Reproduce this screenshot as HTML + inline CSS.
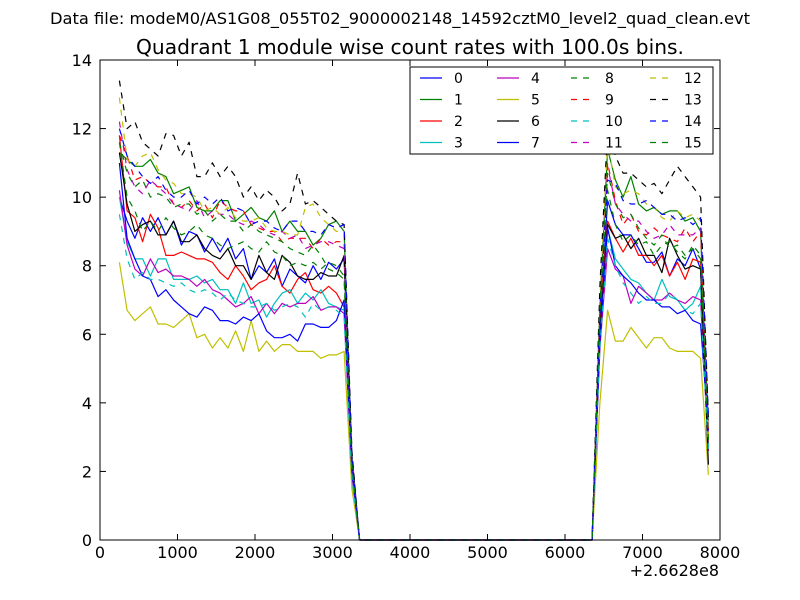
<!DOCTYPE html>
<html><head><meta charset="utf-8"><style>
body{margin:0;background:#fff;}
svg{display:block;font-family:"DejaVu Sans","Liberation Sans",sans-serif;}
</style></head><body>
<svg id="chart" width="800" height="600">
<rect width="800" height="600" fill="#fff"/>
<text x="400" y="24" font-size="16.3" text-anchor="middle">Data file: modeM0/AS1G08_055T02_9000002148_14592cztM0_level2_quad_clean.evt</text>
<text x="410" y="54" font-size="20.2" text-anchor="middle">Quadrant 1 module wise count rates with 100.0s bins.</text>
<g id="plot"></g>
<rect x="100" y="60" width="620" height="480" fill="none" stroke="#000" stroke-width="1"/>
<g id="axes"></g>
<text x="719" y="576" font-size="16" text-anchor="end">+2.6628e8</text>
<g id="legend"></g>
</svg>
<script>
const seriesNames=["0","1","2","3","4","5","6","7","8","9","10","11","12","13","14","15"];
const colors=["#0000ff","#008000","#ff0000","#00bfbf","#bf00bf","#bfbf00","#000000","#0000ff","#008000","#ff0000","#00bfbf","#bf00bf","#bfbf00","#000000","#0000ff","#008000"];
const xTicks=[0,1000,2000,3000,4000,5000,6000,7000,8000];
const yTicks=[0,2,4,6,8,10,12,14];
const firstBin=250, binSize=100, nBins=77;
const segA=[
[10.0,9.3,8.8,9.4,9.0,9.4,8.9,9.3,8.6,9.0,8.9,8.4,8.8,8.4,8.8,8.2,8.5,7.6,8.0,7.8,8.2,7.4,7.9,7.7,7.5,8.0,7.6,8.1,7.9,8.2],
[11.3,11.1,10.9,10.9,11.1,10.7,10.6,10.1,10.2,10.3,9.7,9.6,9.6,9.9,9.9,9.3,9.5,9.7,9.4,9.3,9.6,9.0,9.3,9.0,9.0,8.6,8.8,9.2,9.3,9.0],
[11.8,9.6,9.4,8.7,9.5,9.1,8.3,8.3,8.4,8.3,8.2,8.2,8.1,7.8,7.6,8.0,7.7,7.3,7.5,7.6,8.0,7.4,7.2,7.6,7.8,7.3,7.2,7.4,7.2,6.8],
[10.0,8.7,8.2,8.2,7.7,8.2,8.2,7.6,7.6,7.6,7.7,7.5,7.6,7.3,7.3,6.9,7.5,6.9,7.0,6.5,6.9,7.2,7.3,6.9,7.2,7.0,7.3,6.9,6.8,6.7],
[10.2,8.6,7.9,7.7,8.2,7.8,7.9,7.7,7.7,7.6,7.4,7.6,7.3,7.2,7.0,6.8,6.9,7.1,6.6,6.9,6.6,6.9,6.8,6.9,6.9,7.1,6.7,6.8,6.8,6.6],
[8.1,6.7,6.4,6.6,6.8,6.3,6.3,6.2,6.4,6.6,5.9,6.0,5.6,5.9,5.6,6.1,5.5,6.4,5.5,5.8,5.5,5.7,5.7,5.5,5.5,5.5,5.3,5.4,5.4,5.5],
[11.3,9.8,9.0,9.2,9.3,8.9,8.9,9.3,8.7,8.7,8.9,8.5,8.3,8.2,8.5,8.0,8.0,7.6,8.3,7.8,7.6,8.3,8.1,7.7,7.6,7.6,7.8,7.7,7.7,8.3],
[11.0,8.8,8.2,7.7,7.6,7.1,7.3,7.0,6.8,6.6,6.5,6.8,6.7,6.4,6.4,6.3,6.5,6.4,6.6,6.1,5.9,5.9,6.0,5.8,6.3,6.3,6.2,6.2,6.4,7.0],
[11.6,10.0,9.6,9.0,9.3,9.0,9.4,9.1,8.9,9.0,9.2,8.9,8.8,8.6,8.5,8.6,8.7,8.5,8.4,8.7,8.4,8.3,8.0,8.1,8.0,8.1,7.9,8.1,8.0,7.7],
[11.8,11.2,10.5,10.6,10.4,10.3,10.3,9.8,9.7,9.9,9.6,9.8,9.4,9.9,9.7,9.6,9.6,9.2,9.1,9.0,9.0,8.7,8.8,8.8,8.8,8.5,8.8,8.6,8.7,8.7],
[9.5,8.2,7.6,7.8,7.6,7.6,7.5,7.4,7.5,7.3,7.2,7.3,7.2,7.0,7.2,7.0,6.9,6.8,6.8,6.9,6.7,6.8,6.9,6.8,6.5,6.9,6.7,6.8,6.7,6.5],
[12.2,10.8,10.3,10.1,10.5,10.3,10.1,9.8,9.7,9.6,9.9,9.4,9.6,9.5,9.5,9.3,9.2,9.3,9.2,9.0,8.9,9.0,8.8,8.9,8.5,8.6,8.7,8.7,8.6,8.5],
[12.9,11.1,10.9,11.2,11.3,10.8,10.5,10.4,10.1,10.1,10.0,9.6,9.7,9.5,9.7,9.4,9.3,9.3,9.4,9.1,9.0,9.0,8.9,8.9,9.7,9.8,9.4,9.2,9.0,9.0],
[13.4,12.0,12.2,11.6,11.4,11.2,11.85,11.8,11.2,11.6,10.6,10.6,11.0,10.6,10.9,10.6,10.0,10.3,9.9,10.2,10.0,9.6,9.8,10.7,9.8,9.9,9.7,9.5,9.3,9.2],
[12.0,11.2,10.9,10.6,10.4,10.6,10.2,10.0,10.0,10.2,9.8,10.0,9.8,10.0,9.6,9.7,9.6,9.2,9.3,9.3,9.1,9.0,9.3,9.3,9.0,9.0,8.9,9.2,9.1,9.2],
[11.6,10.7,10.3,10.5,10.0,10.1,10.0,9.7,9.8,9.8,9.5,9.6,9.3,9.5,9.3,9.3,9.0,9.2,9.0,8.9,8.8,8.7,8.5,8.4,8.3,8.6,8.3,7.9,7.8,7.6]];
const dropA=[2.5,2.3,2.2,2.0,1.9,1.5,2.3,2.0,2.2,2.4,1.8,2.3,2.5,2.6,2.4,2.2];
const riseB=[6.2,6.8,6.5,5.8,5.6,4.0,6.0,5.8,6.4,6.9,5.6,6.8,7.0,7.4,6.6,6.7];
const segB=[
[9.9,9.2,8.9,8.9,8.5,8.1,8.1,8.4,7.7,8.2,8.0,8.5,7.9],
[11.4,10.5,10.0,10.6,9.8,9.6,9.7,9.5,9.6,9.6,9.3,9.4,9.0],
[9.3,8.8,8.4,8.8,8.3,8.3,8.0,8.3,7.7,8.1,7.6,8.2,8.1],
[9.1,8.2,7.9,7.6,7.5,7.2,7.0,7.6,7.1,7.0,6.7,6.9,7.4],
[8.5,7.9,7.7,6.9,7.4,7.2,7.0,7.0,7.2,7.0,6.9,7.1,7.0],
[6.7,5.8,5.8,6.2,5.9,5.6,5.9,5.9,5.6,5.5,5.5,5.5,5.3],
[9.2,8.8,8.9,8.5,8.8,8.3,8.3,7.8,8.8,8.3,7.9,8.0,7.9],
[9.1,8.0,7.7,7.5,7.2,7.0,7.0,6.8,6.8,6.6,6.7,6.4,6.3],
[10.2,9.2,8.7,8.9,8.6,8.7,8.3,8.6,8.7,8.4,8.2,8.6,8.3],
[11.0,9.9,9.2,9.5,9.0,8.9,9.1,8.9,8.8,8.7,9.1,8.7,9.0],
[8.8,8.0,7.5,7.2,6.9,7.1,6.9,6.9,7.2,7.0,6.7,6.6,6.9],
[10.9,9.8,9.5,9.3,9.3,9.0,8.8,8.9,9.2,8.9,8.9,8.9,9.1],
[11.6,10.3,10.1,10.2,10.1,9.8,9.7,9.4,9.3,9.6,9.4,9.5,9.3],
[12.0,11.2,10.7,10.7,10.5,10.3,10.4,10.1,10.5,10.9,10.6,10.3,10.0],
[10.5,10.4,9.9,9.8,9.8,9.9,9.7,9.5,9.5,9.3,9.4,9.2,9.4],
[10.7,9.8,9.4,9.5,9.1,8.8,8.6,8.9,8.5,8.6,8.3,8.5,8.2]];
const dropB=[3.0,2.8,2.9,2.7,2.6,1.9,2.2,3.2,3.4,3.1,2.6,3.3,3.0,3.5,3.6,2.9];

const X0=100,X1=720,Y0=540,Y1=60;
const xs=v=>X0+(v-0)/(8000-0)*(X1-X0);
const ys=v=>Y0-(v-0)/(14-0)*(Y0-Y1);
const NS="http://www.w3.org/2000/svg";
function mk(tag,attrs,parent){const e=document.createElementNS(NS,tag);for(const k in attrs)e.setAttribute(k,attrs[k]);parent.appendChild(e);return e;}

const plot=document.getElementById('plot');
for(let s=0;s<16;s++){
  const vals=[];
  segA[s].forEach(v=>vals.push(v));
  vals.push(dropA[s]);
  for(let i=0;i<31;i++)vals.push(0);
  vals.push(riseB[s]);
  segB[s].forEach(v=>vals.push(v));
  vals.push(dropB[s]);
  const pts=vals.map((v,i)=>xs(firstBin+i*binSize).toFixed(1)+","+ys(v).toFixed(1)).join(" ");
  const attrs={points:pts,fill:"none",stroke:colors[s],"stroke-width":"1.2","stroke-linejoin":"round"};
  if(s>=8)attrs["stroke-dasharray"]="6,6";
  const pl=mk('polyline',attrs,plot);
  
  
}

const axes=document.getElementById('axes');
xTicks.forEach(t=>{
  const x=xs(t);
  const a=mk('line',{x1:x,y1:Y0,x2:x,y2:Y0-6,stroke:"#000"},axes);
  
  
  const b=mk('line',{x1:x,y1:Y1,x2:x,y2:Y1+6,stroke:"#000"},axes);
  
  
  const tx=mk('text',{x:x,y:Y0+18,"font-size":"16","text-anchor":"middle"},axes);
  tx.textContent=t;
  
  
});
yTicks.forEach(t=>{
  const y=ys(t);
  const a=mk('line',{x1:X0,y1:y,x2:X0+6,y2:y,stroke:"#000"},axes);
  
  
  const b=mk('line',{x1:X1,y1:y,x2:X1-6,y2:y,stroke:"#000"},axes);
  
  
  const tx=mk('text',{x:X0-8,y:y+6,"font-size":"16","text-anchor":"end"},axes);
  tx.textContent=t;
  
  
});

const lg=document.getElementById('legend');
const box=mk('rect',{x:410,y:67,width:303,height:87,fill:"#fff",stroke:"#000","stroke-width":"1"},lg);


const colX=[420,497,571,650];
for(let s=0;s<16;s++){
  const c=Math.floor(s/4),r=s%4;
  const x=colX[c],y=78+r*21.5;
  const g=mk('g',{},lg);
  
  
  const la={x1:x,y1:y,x2:x+22,y2:y,stroke:colors[s],"stroke-width":"1.2"};
  if(s>=8)la["stroke-dasharray"]="6,6";
  mk('line',la,g);
  const t=mk('text',{x:x+34,y:y+5,"font-size":"14"},g);
  t.textContent=seriesNames[s];
}
</script>
</body></html>
